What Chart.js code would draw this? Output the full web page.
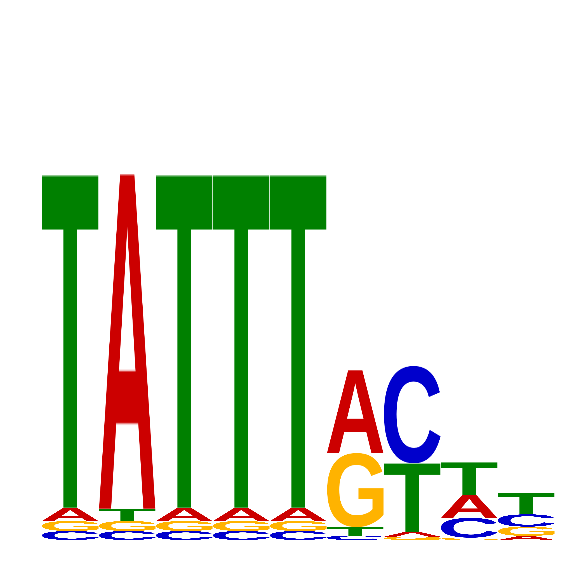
<!DOCTYPE html>
<html>
<head>
<meta charset="utf-8">
<script src="https://cdn.jsdelivr.net/npm/chart.js@4.4.1/dist/chart.umd.min.js"></script>
<style>
  html, body { margin: 0; padding: 0; background: #fff; }
  #wrap { width: 566px; height: 566px; position: relative; }
</style>
</head>
<body>
<div id="wrap"><canvas id="logo"></canvas></div>
<script>
// positions of the motif and letter heights (bits) per position
const positions = ['1', '2', '3', '4', '5', '6', '7', '8', '9'];
const bitsA = [0.051, 1.304, 0.051, 0.051, 0.051, 0.322, 0.019, 0.089, 0.016];
const bitsC = [0.035, 0.035, 0.035, 0.035, 0.035, 0.017, 0.380, 0.077, 0.048];
const bitsG = [0.039, 0.039, 0.039, 0.039, 0.039, 0.289, 0.013, 0.009, 0.036];
const bitsT = [1.296, 0.047, 1.296, 1.296, 1.296, 0.033, 0.266, 0.127, 0.082];

const letters = ['A', 'C', 'G', 'T'];
const letterBits = { A: bitsA, C: bitsC, G: bitsG, T: bitsT };
const letterColors = { A: '#CC0000', C: '#0000CC', G: '#FFB300', T: '#008000' };

// stack letters in each column: smallest at the bottom, biggest on top
const ranges = { A: [], C: [], G: [], T: [] };
positions.forEach((p, i) => {
    const order = letters.slice().sort((a, b) => letterBits[a][i] - letterBits[b][i]);
    let base = 0;
    order.forEach(l => {
        const h = letterBits[l][i];
        ranges[l][i] = [base, base + h];
        base += h;
    });
});

// pre-rendered glyphs, cropped to their ink box
const glyphCache = {};
function getGlyph(letter) {
    if (glyphCache[letter]) return glyphCache[letter];
    const size = 400;
    const c = document.createElement('canvas');
    c.width = size; c.height = size;
    const g = c.getContext('2d');
    g.fillStyle = letterColors[letter];
    g.font = "bold 300px 'Liberation Sans', Arial, sans-serif";
    g.textAlign = 'center';
    g.textBaseline = 'alphabetic';
    g.fillText(letter, size / 2, 330);
    const px = g.getImageData(0, 0, size, size).data;
    let x0 = size, y0 = size, x1 = 0, y1 = 0;
    for (let y = 0; y < size; y++) {
        for (let x = 0; x < size; x++) {
            if (px[(y * size + x) * 4 + 3] > 20) {
                if (x < x0) x0 = x;
                if (x > x1) x1 = x;
                if (y < y0) y0 = y;
                if (y > y1) y1 = y;
            }
        }
    }
    glyphCache[letter] = { canvas: c, x: x0, y: y0, w: x1 - x0 + 1, h: y1 - y0 + 1 };
    return glyphCache[letter];
}

const letterPlugin = {
    id: 'letterPlugin',
    afterDatasetsDraw(chart) {
        const ctx = chart.ctx;
        chart.data.datasets.forEach((ds, di) => {
            const meta = chart.getDatasetMeta(di);
            const glyph = getGlyph(ds.label);
            meta.data.forEach(bar => {
                const { x, y, base, width } = bar.getProps(['x', 'y', 'base', 'width'], true);
                const top = Math.min(y, base);
                const h = Math.abs(base - y);
                if (h < 0.5) return;
                ctx.save();
                ctx.imageSmoothingEnabled = true;
                ctx.drawImage(glyph.canvas, glyph.x, glyph.y, glyph.w, glyph.h,
                    x - width / 2, top, width - 0.5, h);
                ctx.restore();
            });
        });
    }
};

new Chart(document.getElementById('logo'), {
    type: 'bar',
    data: {
        labels: positions,
        datasets: letters.map(l => ({
            label: l,
            data: ranges[l],
            backgroundColor: 'rgba(0,0,0,0)',
            borderWidth: 0,
            grouped: false,
            barPercentage: 1,
            categoryPercentage: 1
        }))
    },
    options: {
        responsive: true,
        maintainAspectRatio: false,
        animation: false,
        layout: {
            padding: { left: 42, right: 11, top: 26, bottom: 26 }
        },
        scales: {
            x: { display: false, offset: true },
            y: { display: false, min: 0, max: 2 }
        },
        plugins: {
            legend: { display: false },
            tooltip: { enabled: false }
        }
    },
    plugins: [letterPlugin]
});
</script>
</body>
</html>
